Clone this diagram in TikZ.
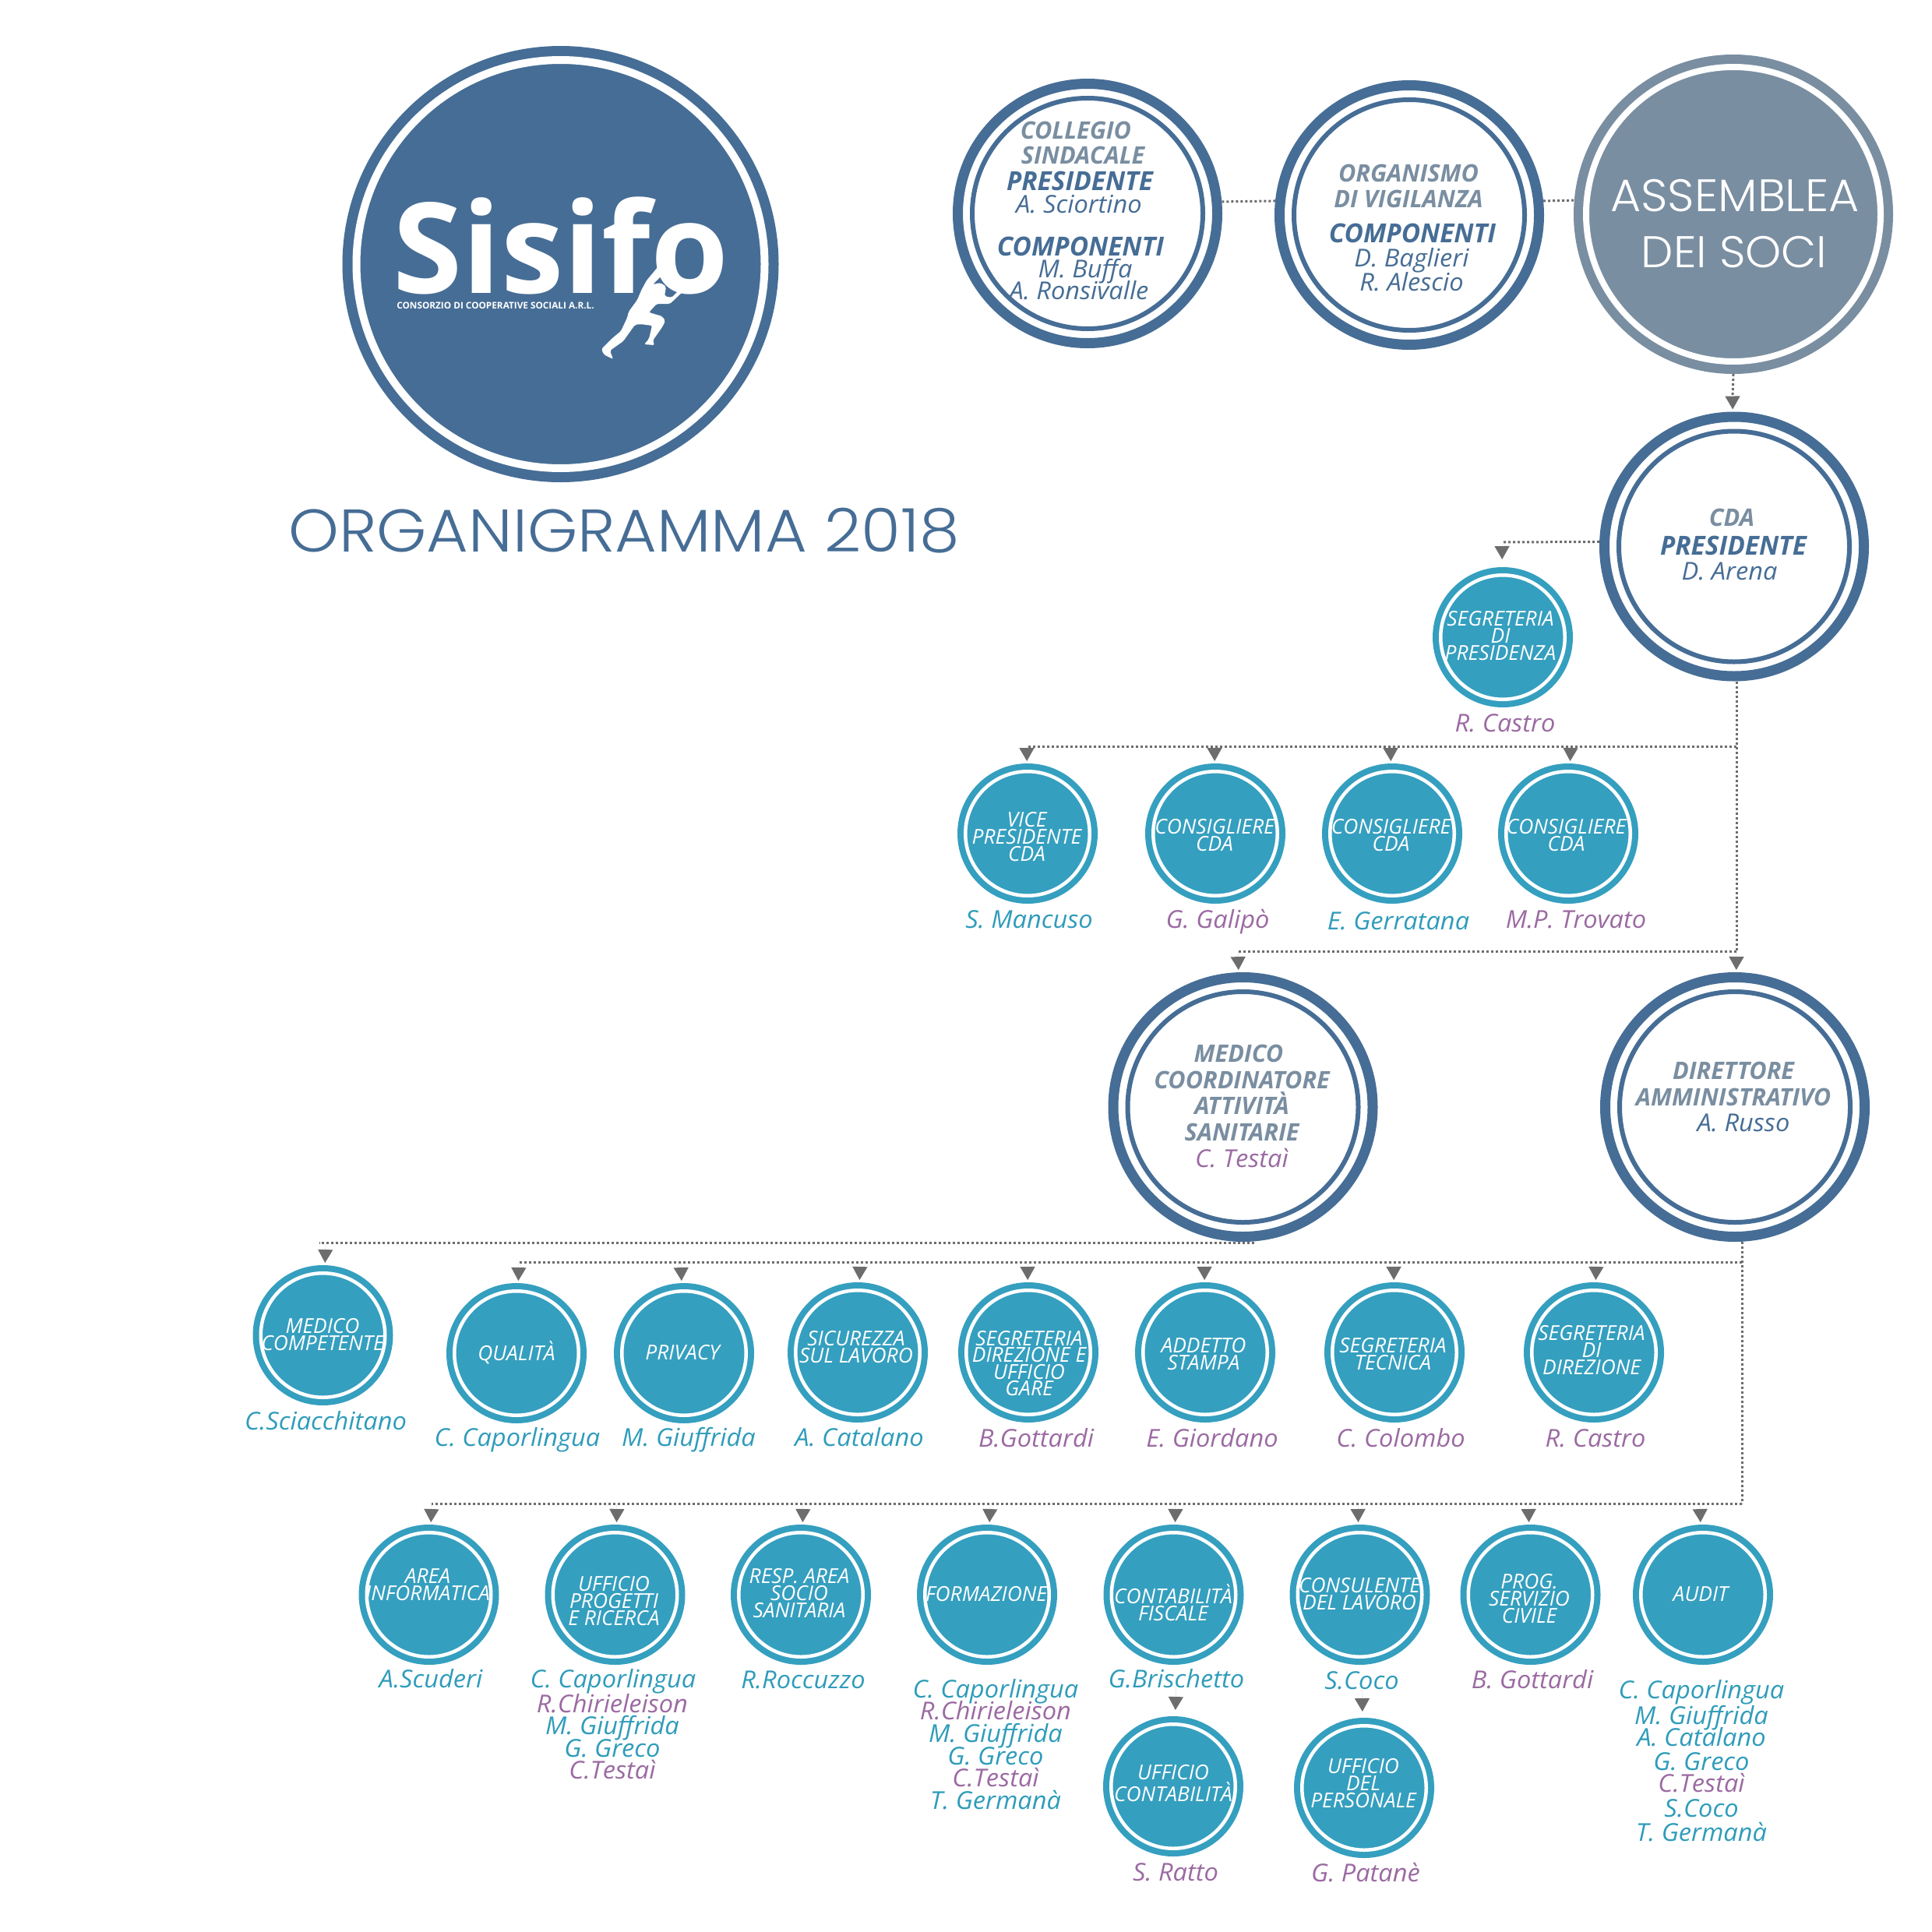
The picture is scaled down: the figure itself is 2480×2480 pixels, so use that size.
\documentclass[tikz,border=0pt]{standalone}
\usepackage{fontspec}
\usetikzlibrary{arrows.meta}
\newfontfamily\namefont[FakeStretch=1.03]{Open Sans}
\newfontfamily\headfont[FakeStretch=0.99]{Open Sans}
\newfontfamily\voicefont[FakeStretch=1.0]{Open Sans}
\newfontfamily\logofont{Open Sans}
\newfontfamily\titlefont[FakeStretch=1.065]{Poppins Light}
\newfontfamily\soci[FakeStretch=1.03]{Poppins Light}
\definecolor{bluelogo}{HTML}{466D95}
\definecolor{greyblue}{HTML}{7A8EA1}
\definecolor{tealnode}{HTML}{359FBF}
\definecolor{tealname}{HTML}{2F9CBA}
\definecolor{purplename}{HTML}{9B6AA2}
\definecolor{greyline}{HTML}{6D6D6D}
\tikzset{
  logodisc/.style={circle,fill=bluelogo,draw=bluelogo,line width=1.3mm,double=white,double distance=1mm,minimum size=52.4mm},
  assemblydisc/.style={circle,fill=greyblue,draw=greyblue,line width=1.2mm,double=white,double distance=.8mm,minimum size=37.8mm,outer sep=1.6mm},
  bigdisc/.style={circle,fill=white,draw=bluelogo,line width=1.3mm,minimum size=33.3mm,outer sep=.65mm},
  bigring/.style={draw=bluelogo,line width=.6mm},
  smalldisc/.style={circle,fill=tealnode,draw=tealnode,line width=.8mm,double=white,double distance=.45mm,minimum size=15.95mm,outer sep=1.025mm},
  voice/.style={inner sep=0pt,align=center,text=white,font=\voicefont\itshape\fontsize{7.5}{6.15}\selectfont},
  namet/.style={inner sep=0pt,text=tealname,text height=2.2mm,text depth=0pt,font=\namefont\itshape\fontsize{9}{10}\selectfont},
  namep/.style={namet,text=purplename},
  nameb/.style={namet,text=bluelogo},
  headg/.style={inner sep=0pt,text=greyblue,text height=2.3mm,text depth=0pt,font=\headfont\bfseries\itshape\fontsize{8.8}{10}\selectfont},
  headb/.style={headg,text=bluelogo,font=\headfont\bfseries\itshape\fontsize{9.6}{10}\selectfont},
  dots/.style={draw=greyline,line width=.3mm,dash pattern=on .3mm off .3mm},
  tip/.style={draw=greyline,fill=greyline,dash pattern=on 0pt off 20pt,shorten >=.3mm,-{Triangle[width=1.9mm,length=1.7mm]}},
}
\begin{document}
\begin{tikzpicture}[x=0.1mm,y=-0.1mm]
\path[use as bounding box] (0,0) rectangle (2480,2480);

% logo and title:
\node[logodisc] (logo) at (719.5,339) {};
\node[inner sep=0pt,text=white,font=\logofont\bfseries\fontsize{46}{46}\selectfont] (sisifo) at (720,315) {Sisifo};
\node[inner sep=0pt,text=white,font=\logofont\bfseries\fontsize{3.35}{4}\selectfont] (consorzio) at (636,392) {CONSORZIO DI COOPERATIVE SOCIALI A.R.L.};
\fill[white,rounded corners=.2mm] (845,342) -- (830,360) -- (823,373) -- (818,385) -- (807,400) -- (805,408) -- (797,425) -- (785,435) -- (772,448) -- (775,455) -- (787,461) -- (783,450) -- (800,438) -- (815,417) -- (822,416) -- (837,418) -- (833,435) -- (827,442) -- (840,443) -- (838,437) -- (850,420) -- (854,412) -- (850,406) -- (833,401) -- (843,390) -- (860,390) -- (878,373) -- (872,372) -- (862,382) -- (853,380) -- (855,368) -- (848,363) -- (838,365) -- (850,353) -- cycle;
\node[inner sep=0pt,text=bluelogo,font=\titlefont\fontsize{22}{22}\selectfont] (title) at (801,681) {ORGANIGRAMMA 2018};

% top row:
\node[bigdisc] (collegio) at (1396,274) {};
\draw[bigring] (collegio.center) circle (148);
\node[headg] (collegio1) at (1381,167) {COLLEGIO};
\node[headg] (collegio2) at (1390,199) {SINDACALE};
\node[headb] (collegio3) at (1386,233) {PRESIDENTE};
\node[nameb] (collegio4) at (1385,262) {A. Sciortino};
\node[headb] (collegio5) at (1387,317) {COMPONENTI};
\node[nameb] (collegio6) at (1393,345) {M. Buffa};
\node[nameb] (collegio7) at (1385,373) {A. Ronsivalle};
\node[bigdisc] (organismo) at (1809,276) {};
\draw[bigring] (organismo.center) circle (148);
\node[headg] (organismo1) at (1808,222) {ORGANISMO};
\node[headg] (organismo2) at (1808,255) {DI VIGILANZA};
\node[headb] (organismo3) at (1813,300) {COMPONENTI};
\node[nameb] (organismo4) at (1812,331) {D. Baglieri};
\node[nameb] (organismo5) at (1812,362) {R. Alescio};
\node[assemblydisc] (assemblea) at (2225,275) {};
\node[inner sep=0pt,text=white,font=\soci\fontsize{16.6}{21}\selectfont] (assemblea1) at (2227,251) {ASSEMBLEA};
\node[inner sep=0pt,text=white,font=\soci\fontsize{16.2}{21}\selectfont] (assemblea2) at (2226,324) {DEI SOCI};

% board:
\node[bigdisc] (cda) at (2226,701.5) {};
\draw[bigring] (cda.center) circle (148);
\node[headg] (cda1) at (2223,664) {CDA};
\node[headb] (cda2) at (2225,701) {PRESIDENTE};
\node[nameb] (cda3) at (2220,733) {D. Arena};
\node[smalldisc] (presidenza) at (1929,818) {};
\node[voice] (presidenza1) at (1926,816) {SEGRETERIA\\DI\\PRESIDENZA};
\node[namep] (presidenza2) at (1932,928) {R. Castro};
\node[smalldisc] (vice) at (1319,1070) {};
\node[voice] (vice1) at (1318,1074) {VICE\\PRESIDENTE\\CDA};
\node[namet] (vice2) at (1321,1180) {S. Mancuso};
\node[smalldisc] (cons1) at (1560,1070) {};
\node[voice] (cons1a) at (1559,1072) {CONSIGLIERE\\CDA};
\node[namep] (cons1b) at (1563,1180) {G. Galipò};
\node[smalldisc] (cons2) at (1787,1070) {};
\node[voice] (cons2a) at (1785.5,1072) {CONSIGLIERE\\CDA};
\node[namet] (cons2b) at (1795,1182) {E. Gerratana};
\node[smalldisc] (cons3) at (2013,1070) {};
\node[voice] (cons3a) at (2010.5,1072) {CONSIGLIERE\\CDA};
\node[namep] (cons3b) at (2023,1180) {M.P. Trovato};

% direction:
\node[bigdisc] (medico) at (1595.5,1421) {};
\draw[bigring] (medico.center) circle (148);
\node[headg] (medico1) at (1590,1352) {MEDICO};
\node[headg] (medico2) at (1594,1386) {COORDINATORE};
\node[headg] (medico3) at (1594,1419) {ATTIVITÀ};
\node[headg] (medico4) at (1594,1453) {SANITARIE};
\node[namep] (medico5) at (1594,1487) {C. Testaì};
\node[bigdisc] (direttore) at (2227,1421) {};
\draw[bigring] (direttore.center) circle (148);
\node[headg] (direttore1) at (2225,1374) {DIRETTORE};
\node[headg] (direttore2) at (2225,1408) {AMMINISTRATIVO};
\node[nameb] (direttore3) at (2238,1441) {A. Russo};

% staff row:
\node[smalldisc] (competente) at (414.5,1714) {};
\node[voice] (competente1) at (414,1713) {MEDICO\\COMPETENTE};
\node[namet] (competente2) at (418,1824) {C.Sciacchitano};
\node[smalldisc] (qualita) at (663,1737) {};
\node[voice] (qualita1) at (663,1736) {QUALITÀ};
\node[namet] (qualita2) at (664,1845) {C. Caporlingua};
\node[smalldisc] (privacy) at (878,1737) {};
\node[voice] (privacy1) at (876,1736) {PRIVACY};
\node[namet] (privacy2) at (884,1845) {M. Giuffrida};
\node[smalldisc] (sicurezza) at (1101,1736) {};
\node[voice] (sicurezza1) at (1099,1729) {SICUREZZA\\SUL LAVORO};
\node[namet] (sicurezza2) at (1103,1845) {A. Catalano};
\node[smalldisc] (gare) at (1320,1736) {};
\node[voice] (gare1) at (1321,1750) {SEGRETERIA\\DIREZIONE E\\UFFICIO\\GARE};
\node[namep] (gare2) at (1330,1846) {B.Gottardi};
\node[smalldisc] (stampa) at (1547,1736) {};
\node[voice] (stampa1) at (1545,1738) {ADDETTO\\STAMPA};
\node[namep] (stampa2) at (1556,1846) {E. Giordano};
\node[smalldisc] (tecnica) at (1790,1736) {};
\node[voice] (tecnica1) at (1788,1738) {SEGRETERIA\\TECNICA};
\node[namep] (tecnica2) at (1798,1846) {C. Colombo};
\node[smalldisc] (direzione) at (2046,1736) {};
\node[voice] (direzione1) at (2043,1733) {SEGRETERIA\\DI\\DIREZIONE};
\node[namep] (direzione2) at (2048,1846) {R. Castro};

% offices row:
\node[smalldisc] (informatica) at (550.5,2047) {};
\node[voice] (informatica1) at (549,2034) {AREA\\INFORMATICA};
\node[namet] (informatica2) at (553,2155) {A.Scuderi};
\node[smalldisc] (progetti) at (789.5,2047) {};
\node[voice] (progetti1) at (788,2055) {UFFICIO\\PROGETTI\\E RICERCA};
\node[namet] (progetti2) at (787,2155) {C. Caporlingua};
\node[namep] (progetti3) at (786,2187) {R.Chirieleison};
\node[namet] (progetti4) at (786,2215) {M. Giuffrida};
\node[namet] (progetti5) at (786,2244) {G. Greco};
\node[namep] (progetti6) at (786,2272) {C.Testaì};
\node[smalldisc] (socio) at (1028,2047) {};
\node[voice] (socio1) at (1026,2045) {RESP. AREA\\SOCIO\\SANITARIA};
\node[namet] (socio2) at (1031,2156) {R.Roccuzzo};
\node[smalldisc] (formazione) at (1267,2047) {};
\node[voice] (formazione1) at (1266,2046) {FORMAZIONE};
\node[namet] (formazione2) at (1278,2168) {C. Caporlingua};
\node[namep] (formazione3) at (1278,2196) {R.Chirieleison};
\node[namet] (formazione4) at (1278,2225) {M. Giuffrida};
\node[namet] (formazione5) at (1278,2254) {G. Greco};
\node[namep] (formazione6) at (1278,2282) {C.Testaì};
\node[namet] (formazione7) at (1278,2311) {T. Germanà};
\node[smalldisc] (fiscale) at (1506.5,2047) {};
\node[voice] (fiscale1) at (1506,2057) {CONTABILITÀ\\FISCALE};
\node[namet] (fiscale2) at (1510,2155) {G.Brischetto};
\node[smalldisc] (contabile) at (1506,2293) {};
\node[voice] (contabile1) at (1506,2289) {UFFICIO\\CONTABILITÀ};
\node[namep] (contabile2) at (1509,2403) {S. Ratto};
\node[smalldisc] (lavoro) at (1745.5,2047) {};
\node[voice] (lavoro1) at (1745,2046) {CONSULENTE\\DEL LAVORO};
\node[namet] (lavoro2) at (1748,2157) {S.Coco};
\node[smalldisc] (personale) at (1751,2295) {};
\node[voice] (personale1) at (1750,2289) {UFFICIO\\DEL\\PERSONALE};
\node[namep] (personale2) at (1753,2404) {G. Patanè};
\node[smalldisc] (civile) at (1964.5,2047) {};
\node[voice] (civile1) at (1963,2052) {PROG.\\SERVIZIO\\CIVILE};
\node[namep] (civile2) at (1967,2156) {B. Gottardi};
\node[smalldisc] (audit) at (2186,2047) {};
\node[voice] (audit1) at (2183,2046) {AUDIT};
\node[namet] (audit2) at (2184,2169) {C. Caporlingua};
\node[namet] (audit3) at (2184,2202) {M. Giuffrida};
\node[namet] (audit4) at (2184,2230) {A. Catalano};
\node[namet] (audit5) at (2184,2261) {G. Greco};
\node[namep] (audit6) at (2184,2289) {C.Testaì};
\node[namet] (audit7) at (2184,2321) {S.Coco};
\node[namet] (audit8) at (2184,2352) {T. Germanà};

% dotted lines:
\coordinate (sociend) at (2224,510);
\coordinate (segr) at (1928,696);
\coordinate (bus1) at (2229,958);
\coordinate (bus1a) at (1318,958);
\coordinate (bus1b) at (1559,958);
\coordinate (bus1c) at (1785,958);
\coordinate (bus1d) at (2016,958);
\coordinate (bus2) at (2229,1221);
\coordinate (bus2a) at (1589,1221);
\coordinate (bus3) at (1610,1595);
\coordinate (bus3a) at (418,1595);
\coordinate (bus3b) at (410,1595);
\coordinate (bus4) at (2236,1620);
\coordinate (bus4a) at (666,1620);
\coordinate (bus4b) at (874,1620);
\coordinate (bus4c) at (1104,1620);
\coordinate (bus4d) at (1319,1620);
\coordinate (bus4e) at (1546,1620);
\coordinate (bus4f) at (1789,1620);
\coordinate (bus4g) at (2049,1620);
\coordinate (bus5) at (2236,1930);
\coordinate (bus5a) at (554,1930);
\coordinate (bus5b) at (792,1930);
\coordinate (bus5c) at (1031,1930);
\coordinate (bus5d) at (1271,1930);
\coordinate (bus5e) at (1509,1930);
\coordinate (bus5f) at (1743,1930);
\coordinate (bus5g) at (1962,1930);
\coordinate (bus5h) at (2182,1930);
\draw[dots] (collegio.5) -- (organismo.174);
\draw[dots] (organismo.6) -- (assemblea.175);
\draw[dots] (assemblea.south) -- (sociend);
\draw[dots] (cda.178) -- (segr);
\draw[dots] (bus1 |- cda.south) -- (bus2);
\draw[dots] (bus1) -- (bus1a);
\draw[dots] (bus2) -- (bus2a);
\draw[dots] (bus3) -- (bus3b);
\draw[dots] (bus4 |- direttore.south) -- (bus5);
\draw[dots] (bus4) -- (bus4a);
\draw[dots] (bus5) -- (bus5a);
\draw[tip] (sociend) -- (cda);
\draw[tip,shorten >=1mm] (segr) -- (presidenza);
\draw[tip] (bus1a) -- (vice);
\draw[tip] (bus1b) -- (cons1);
\draw[tip] (bus1c) -- (cons2);
\draw[tip] (bus1d) -- (cons3);
\draw[tip] (bus2a) -- (medico);
\draw[tip] (bus2) -- (direttore);
\draw[tip] (bus3a) -- (competente);
\draw[tip] (bus4a) -- (qualita);
\draw[tip] (bus4b) -- (privacy);
\draw[tip] (bus4c) -- (sicurezza);
\draw[tip] (bus4d) -- (gare);
\draw[tip] (bus4e) -- (stampa);
\draw[tip] (bus4f) -- (tecnica);
\draw[tip] (bus4g) -- (direzione);
\draw[tip] (bus5a) -- (informatica);
\draw[tip] (bus5b) -- (progetti);
\draw[tip] (bus5c) -- (socio);
\draw[tip] (bus5d) -- (formazione);
\draw[tip] (bus5e) -- (fiscale);
\draw[tip] (bus5f) -- (lavoro);
\draw[tip] (bus5g) -- (civile);
\draw[tip] (bus5h) -- (audit);
\draw[tip,shorten >=.8mm] (fiscale2) -- (contabile);
\draw[tip,shorten >=.8mm] (lavoro2) -- (personale);

\end{tikzpicture}
\end{document}
